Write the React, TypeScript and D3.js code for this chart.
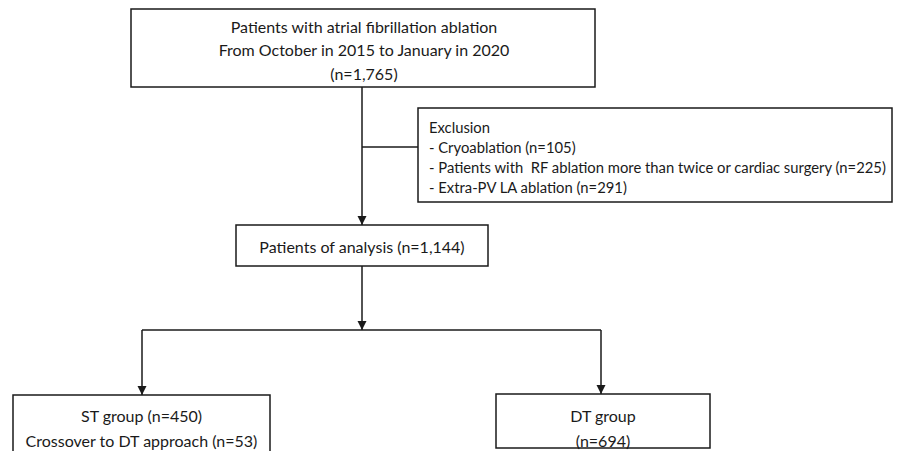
import * as d3 from "d3";
import { useEffect, useRef } from "react";

// flow nodes: texts as in the diagram
const topLines = [
  "Patients with atrial fibrillation ablation",
  "From October in 2015 to January in 2020",
  "(n=1,765)",
];
const exclusionLines = [
  "Exclusion",
  "- Cryoablation (n=105)",
  "- Patients with  RF ablation more than twice or cardiac surgery (n=225)",
  "- Extra-PV LA ablation (n=291)",
];
const analysisLines = ["Patients of analysis (n=1,144)"];
const stLines = ["ST group (n=450)", "Crossover to DT approach (n=53)"];
const dtLines = ["DT group", "(n=694)"];

type Box = { x: number; y: number; w: number; h: number };

const W = 909;
const H = 451;
const FONT = "Lato, 'Open Sans', sans-serif";
const INK = "#1a1a1a";

export default function App() {
  const ref = useRef<SVGSVGElement | null>(null);

  useEffect(() => {
    const el = ref.current;
    if (!el) return;
    document.body.style.margin = "0";
    const svg = d3.select(el);
    svg.selectAll("*").remove();

    const top: Box = { x: 131, y: 9, w: 464, h: 78 };
    const excl: Box = { x: 418, y: 108, w: 474, h: 94 };
    const ana: Box = { x: 236, y: 225, w: 252, h: 41 };
    const st: Box = { x: 13, y: 395, w: 257, h: 70 };
    const dt: Box = { x: 496, y: 394, w: 214, h: 54 };

    const spineX = 362;
    const splitY = 330;
    const stX = 142;
    const dtX = 601;

    const defs = svg.append("defs");
    defs
      .append("marker")
      .attr("id", "arrow")
      .attr("viewBox", "0 0 10 10")
      .attr("refX", 10)
      .attr("refY", 5)
      .attr("markerUnits", "userSpaceOnUse")
      .attr("markerWidth", 9)
      .attr("markerHeight", 11)
      .attr("orient", "auto")
      .append("path")
      .attr("d", "M0,0L10,5L0,10Z")
      .attr("fill", INK);

    const g = svg.append("g");

    const boxes: [Box, string[]][] = [
      [top, topLines],
      [excl, exclusionLines],
      [ana, analysisLines],
      [st, stLines],
      [dt, dtLines],
    ];

    g.selectAll("rect.box")
      .data(boxes)
      .join("rect")
      .attr("class", "box")
      .attr("x", (d) => d[0].x)
      .attr("y", (d) => d[0].y)
      .attr("width", (d) => d[0].w)
      .attr("height", (d) => d[0].h)
      .attr("fill", "#fff")
      .attr("stroke", INK)
      .attr("stroke-width", 1.5);

    const line = d3.line<[number, number]>();
    const links: { pts: [number, number][]; arrow: boolean }[] = [
      { pts: [[spineX, top.y + top.h], [spineX, ana.y]], arrow: true },
      { pts: [[spineX, excl.y + 39], [excl.x, excl.y + 39]], arrow: false },
      { pts: [[spineX, ana.y + ana.h], [spineX, splitY]], arrow: true },
      { pts: [[stX, splitY], [dtX, splitY]], arrow: false },
      { pts: [[stX, splitY], [stX, st.y]], arrow: true },
      { pts: [[dtX, splitY], [dtX, dt.y]], arrow: true },
    ];

    g.selectAll("path.link")
      .data(links)
      .join("path")
      .attr("class", "link")
      .attr("d", (d) => line(d.pts))
      .attr("fill", "none")
      .attr("stroke", INK)
      .attr("stroke-width", 1.5)
      .attr("marker-end", (d) => (d.arrow ? "url(#arrow)" : null));

    const centered = (cx: number, lines: string[], y0: number, step: number) => {
      g.append("g")
        .selectAll("text")
        .data(lines)
        .join("text")
        .attr("x", cx)
        .attr("y", (_, i) => y0 + i * step)
        .attr("text-anchor", "middle")
        .attr("dominant-baseline", "central")
        .attr("font-family", FONT)
        .attr("font-size", 16)
        .attr("fill", INK)
        .text((d) => d);
    };

    centered(364, topLines, 26, 23.5);
    centered(ana.x + ana.w / 2, analysisLines, 246, 0);
    centered(st.x + st.w / 2, stLines, 415, 25);
    centered(dt.x + dt.w / 2, dtLines, 415, 25);

    g.append("g")
      .selectAll("text")
      .data(exclusionLines)
      .join("text")
      .attr("x", excl.x + 11)
      .attr("y", (_, i) => excl.y + 19 + i * 20)
      .attr("dominant-baseline", "central")
      .attr("font-family", FONT)
      .attr("font-size", 14.8)
      .attr("fill", INK)
      .style("white-space", "pre")
      .text((d) => d);
  }, []);

  return (
    <svg
      ref={ref}
      width={W}
      height={H}
      viewBox={`0 0 ${W} ${H}`}
      style={{ display: "block", background: "#fff" }}
    />
  );
}
